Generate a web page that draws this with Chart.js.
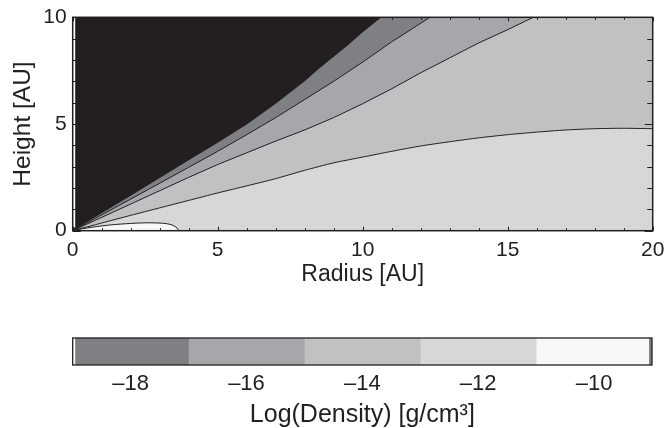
<!DOCTYPE html>
<html>
<head>
<meta charset="utf-8">
<script src="https://cdn.jsdelivr.net/npm/chart.js@4.4.1/dist/chart.umd.min.js"></script>
<style>
  html, body { margin: 0; padding: 0; background: #ffffff; }
  #wrap { position: relative; width: 665px; height: 428px; overflow: hidden; }
  canvas { position: absolute; left: 0; }
  #contourChart { top: 0; }
  #colorbarChart { top: 300px; }
</style>
</head>
<body>
<div id="wrap">
  <canvas id="contourChart" width="665" height="300"></canvas>
  <canvas id="colorbarChart" width="665" height="128"></canvas>
</div>
<script>
// contour levels of log density (radius / height in AU)
// the last points lie above the plot top so the bands run out through the upper edge
const edge19R = [0, 2, 4, 5, 6, 7, 8, 8.5, 9, 9.5, 10, 10.65, 12, 20];
const edge19Z = [0, 1.64, 3.3, 4.12, 4.98, 5.95, 7.0, 7.6, 8.15, 8.7, 9.3, 10.0, 11.6, 20];

const edge17R = [0, 2, 4, 5, 6, 7, 8, 9, 10, 11, 12, 12.32, 13.5, 20];
const edge17Z = [0, 1.48, 2.97, 3.72, 4.5, 5.3, 6.15, 7.0, 7.9, 8.85, 9.72, 10.0, 11.0, 18];

const edge15R = [0, 2, 4, 5, 6, 7, 8, 9, 10, 11, 12, 13, 14, 15, 15.88, 17.5, 20];
const edge15Z = [0, 1.25, 2.5, 3.1, 3.65, 4.2, 4.72, 5.3, 5.95, 6.65, 7.4, 8.1, 8.8, 9.42, 10.0, 11.0, 13];

const edge13R = [0, 1, 2, 3, 4, 5, 6, 7, 8, 9, 10, 11, 12, 13, 14, 15, 16, 17, 18, 19, 20];
const edge13Z = [0, 0.36, 0.72, 1.07, 1.42, 1.77, 2.1, 2.44, 2.83, 3.18, 3.45, 3.72, 3.97, 4.17, 4.35, 4.5, 4.62, 4.72, 4.78, 4.8, 4.78];

const edge11R = [0, 0.3, 0.7, 1.3, 2, 2.6, 3.1, 3.35, 3.5, 3.6, 3.65];
const edge11Z = [0, 0.08, 0.17, 0.27, 0.34, 0.37, 0.35, 0.3, 0.22, 0.12, 0];

// colour bar
const levels = [-19, -17, -15, -13, -11, -9];
const colorTicks = [-18, -16, -14, -12, -10];

const INK = "#231f20";
const BELOW_MIN = "#231f20";
const bandColors = ["#7f8084", "#a6a7aa", "#c0c1c3", "#d6d7d9", "#f8f8f8"];

Chart.defaults.font.family = "'Liberation Sans', Arial, sans-serif";
Chart.defaults.color = INK;
Chart.defaults.animation = false;

function toPoints(rs, zs) {
    return rs.map((r, i) => ({ x: r, y: zs[i] }));
}

// the fill of each level goes down to the midplane; inner (denser) levels are drawn last
const contours = [
    { r: edge11R, z: edge11Z, color: bandColors[4], line: 1, tension: 0.3 },
    { r: edge13R, z: edge13Z, color: bandColors[3], line: 1, tension: 0.2 },
    { r: edge15R, z: edge15Z, color: bandColors[2], line: 1, tension: 0 },
    { r: edge17R, z: edge17Z, color: bandColors[1], line: 1, tension: 0 },
    { r: edge19R, z: edge19Z, color: bandColors[0], line: 0, tension: 0 }
];

// keep the plot box where the reference has it, whatever the edge labels need
function noEdgePadding(s) {
    s.paddingLeft = 0;
    s.paddingRight = 0;
    s.paddingTop = 0;
    s.paddingBottom = 0;
}

const frameTicks = {
    id: "frameTicks",
    beforeDraw(chart) {
        const { ctx, chartArea: a } = chart;
        ctx.save();
        ctx.fillStyle = BELOW_MIN;
        ctx.fillRect(a.left, a.top, a.right - a.left, a.bottom - a.top);
        ctx.restore();
    },
    afterDatasetsDraw(chart) {
        const { ctx, chartArea: a, scales } = chart;
        const x = scales.x, y = scales.y;
        ctx.save();
        ctx.fillStyle = "#ffffff";
        ctx.fillRect(a.left, a.top, 2.5, y.getPixelForValue(0.15) - a.top);
        ctx.strokeStyle = INK;
        ctx.lineWidth = 1;
        ctx.beginPath();
        for (let v = Math.ceil(x.min); v <= x.max; v++) {
            const px = Math.round(x.getPixelForValue(v)) + 0.5;
            const len = v % 5 === 0 ? 4 : 2.5;
            ctx.moveTo(px, a.bottom); ctx.lineTo(px, a.bottom - len);
            ctx.moveTo(px, a.top); ctx.lineTo(px, a.top + len);
        }
        for (let v = Math.ceil(y.min); v <= y.max; v++) {
            const py = Math.round(y.getPixelForValue(v)) + 0.5;
            const len = v % 5 === 0 ? 8 : 5.5;
            ctx.moveTo(a.left, py); ctx.lineTo(a.left + len, py);
            ctx.moveTo(a.right, py); ctx.lineTo(a.right - len, py);
        }
        ctx.stroke();
        ctx.lineWidth = 1.5;
        ctx.strokeRect(a.left, a.top, a.right - a.left, a.bottom - a.top);
        ctx.restore();
    }
};

new Chart(document.getElementById("contourChart"), {
    type: "line",
    data: {
        datasets: contours.map(c => ({
            data: toPoints(c.r, c.z),
            fill: "origin",
            backgroundColor: c.color,
            borderColor: INK,
            borderWidth: c.line,
            pointRadius: 0,
            tension: c.tension
        }))
    },
    options: {
        responsive: false,
        layout: { padding: { left: 0, right: 12.3, top: 17.3, bottom: 0 } },
        plugins: { legend: { display: false }, tooltip: { enabled: false } },
        scales: {
            x: {
                type: "linear",
                min: 0,
                max: 20,
                grid: { display: false, drawTicks: false },
                border: { display: false },
                ticks: { stepSize: 5, padding: 6.5, font: { size: 21 }, color: INK },
                title: {
                    display: true,
                    text: "Radius [AU]",
                    font: { size: 23 },
                    color: INK,
                    padding: { top: 0, bottom: 11.2 }
                },
                afterFit(s) { s.height = 300 - 230.7; noEdgePadding(s); }
            },
            y: {
                type: "linear",
                min: 0,
                max: 10,
                grid: { display: false, drawTicks: false },
                border: { display: false },
                ticks: { stepSize: 5, padding: 6, font: { size: 21 }, color: INK },
                title: {
                    display: true,
                    text: "Height [AU]",
                    font: { size: 24.5 },
                    color: INK,
                    padding: { top: 8.6, bottom: 0 }
                },
                afterFit(s) { s.width = 72.7; noEdgePadding(s); }
            }
        }
    },
    plugins: [frameTicks]
});

const barFrame = {
    id: "barFrame",
    afterDatasetsDraw(chart) {
        const { ctx, chartArea: a } = chart;
        ctx.save();
        ctx.fillStyle = "#ffffff";
        ctx.fillRect(a.left, a.top, 2.5, a.bottom - a.top);
        ctx.fillStyle = bandColors[0];
        ctx.fillRect(a.right - 3, a.top, 3, a.bottom - a.top);
        ctx.strokeStyle = INK;
        ctx.lineWidth = 1.3;
        ctx.strokeRect(a.left, a.top, a.right - a.left, a.bottom - a.top);
        ctx.restore();
    }
};

new Chart(document.getElementById("colorbarChart"), {
    type: "bar",
    data: {
        labels: ["Log(Density)"],
        datasets: bandColors.map((col, i) => ({
            data: [[levels[i], levels[i + 1]]],
            backgroundColor: col,
            borderWidth: 0
        }))
    },
    options: {
        indexAxis: "y",
        responsive: false,
        datasets: { bar: { grouped: false, barPercentage: 1, categoryPercentage: 1 } },
        layout: { padding: { left: 72.7, right: 13, top: 38, bottom: 0 } },
        plugins: { legend: { display: false }, tooltip: { enabled: false } },
        scales: {
            y: { display: false },
            x: {
                type: "linear",
                min: levels[0],
                max: levels[levels.length - 1],
                grid: { display: false, drawTicks: false },
                border: { display: false },
                afterBuildTicks(s) { s.ticks = colorTicks.map(v => ({ value: v })); },
                ticks: {
                    padding: 6,
                    font: { size: 22 },
                    color: INK,
                    callback: v => "\u2013" + Math.abs(v)
                },
                title: {
                    display: true,
                    text: "Log(Density) [g/cm\u00b3]",
                    font: { size: 25, lineHeight: 1 },
                    color: INK,
                    padding: { top: 0, bottom: 0 }
                },
                afterFit(s) { s.height = 128 - 65; noEdgePadding(s); }
            }
        }
    },
    plugins: [barFrame]
});
</script>
</body>
</html>
